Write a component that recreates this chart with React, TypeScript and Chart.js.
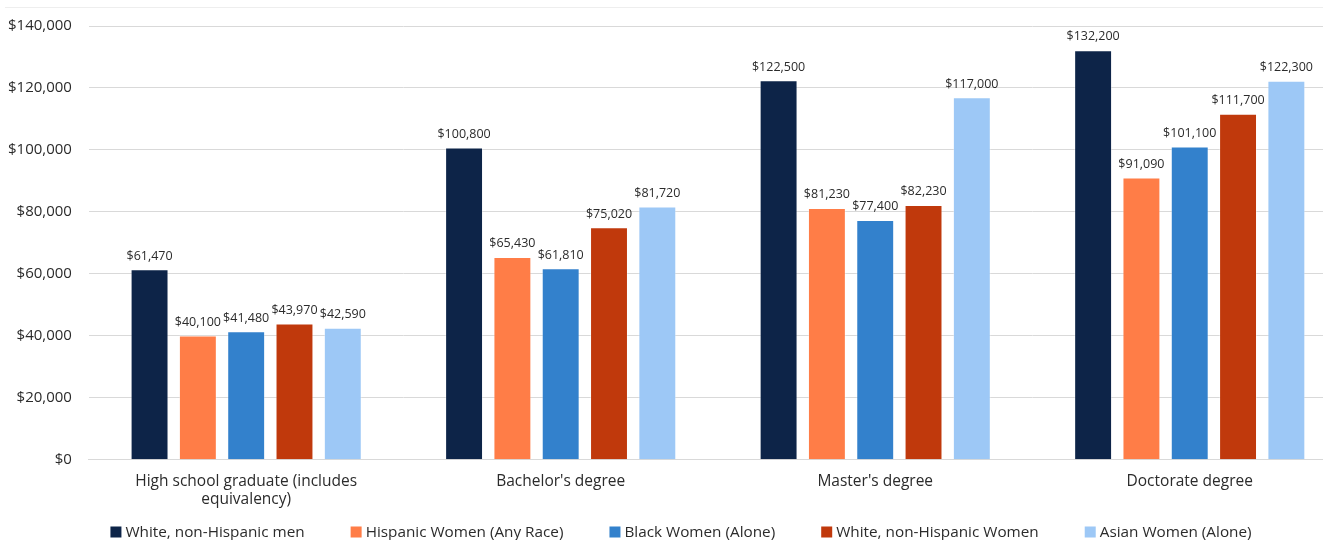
import React, { useEffect, useRef } from "react";
import { Chart, registerables } from "chart.js";

Chart.register(...registerables);

const categories: (string | string[])[] = [
  ["High school graduate (includes", "equivalency)"],
  "Bachelor's degree",
  "Master's degree",
  "Doctorate degree",
];

const seriesNames = [
  "White, non-Hispanic men",
  "Hispanic Women (Any Race)",
  "Black Women (Alone)",
  "White, non-Hispanic Women",
  "Asian Women (Alone)",
];

const whiteMen = [61470, 100800, 122500, 132200];
const hispanicWomen = [40100, 65430, 81230, 91090];
const blackWomen = [41480, 61810, 77400, 101100];
const whiteWomen = [43970, 75020, 82230, 111700];
const asianWomen = [42590, 81720, 117000, 122300];

const seriesValues = [whiteMen, hispanicWomen, blackWomen, whiteWomen, asianWomen];
const seriesColors = ["#0d2448", "#ff7d47", "#3381cc", "#c0390c", "#9dc8f6"];

const yTicks = [0, 20000, 40000, 60000, 80000, 100000, 120000, 140000];

const FONT = '"Open Sans", sans-serif';

const fmt = (v: number) => "$" + v.toLocaleString("en-US");

const labelPlugin = {
  id: "barLabels",
  afterDatasetsDraw(chart: any) {
    const ctx = chart.ctx;
    ctx.save();
    ctx.font = `12.5px ${FONT}`;
    ctx.fillStyle = "#2b2b2b";
    ctx.textAlign = "center";
    ctx.textBaseline = "bottom";
    chart.data.datasets.forEach((ds: any, i: number) => {
      const meta = chart.getDatasetMeta(i);
      meta.data.forEach((bar: any, j: number) => {
        ctx.fillText(fmt(ds.data[j]), bar.x, bar.y - 7);
      });
    });
    ctx.restore();
  },
};

const legendPlugin = {
  id: "customLegend",
  afterDraw(chart: any) {
    const ctx = chart.ctx;
    ctx.save();
    ctx.font = `15.3px ${FONT}`;
    ctx.textBaseline = "middle";
    ctx.textAlign = "left";
    const box = 11;
    const gapBoxText = 4;
    const gapItems = 46;
    const widths = seriesNames.map((n) => box + gapBoxText + ctx.measureText(n).width);
    const total = widths.reduce((a, b) => a + b, 0) + gapItems * (seriesNames.length - 1);
    let x = 690 - total / 2;
    const y = 532;
    seriesNames.forEach((n, i) => {
      ctx.fillStyle = seriesColors[i];
      ctx.fillRect(x, y - box / 2, box, box);
      ctx.fillStyle = "#2b2b2b";
      ctx.fillText(n, x + box + gapBoxText, y + 0.5);
      x += widths[i] + gapItems;
    });
    ctx.restore();
  },
};

export default function App() {
  const ref = useRef<HTMLCanvasElement>(null);
  useEffect(() => {
    if (!ref.current) return;
    const chart = new Chart(ref.current, {
      type: "bar",
      data: {
        labels: categories,
        datasets: seriesNames.map((name, i) => ({
          label: name,
          data: seriesValues[i],
          backgroundColor: seriesColors[i],
          borderColor: "rgba(255,255,255,0.35)",
          borderWidth: 1,
          barPercentage: 0.785,
          categoryPercentage: 0.768,
        })),
      },
      options: {
        animation: false,
        responsive: false,
        maintainAspectRatio: false,
        layout: { padding: { top: 10, right: 3, left: 0, bottom: 27 } },
        plugins: {
          tooltip: { enabled: false },
          legend: { display: false },
        },
        scales: {
          x: {
            grid: { display: false },
            border: { display: true, color: "#d9d9d9" },
            ticks: {
              color: "#2b2b2b",
              font: { family: FONT, size: 15.5, lineHeight: 1.2 },
              maxRotation: 0,
              padding: 4,
            },
          },
          y: {
            min: 0,
            max: 140000,
            afterBuildTicks: (axis: any) => {
              axis.ticks = yTicks.map((v) => ({ value: v }));
            },
            grid: { color: "#d9d9d9", drawTicks: false },
            border: { display: false },
            ticks: {
              color: "#2b2b2b",
              font: { family: FONT, size: 15 },
              padding: 17,
              callback: (v: any) => fmt(Number(v)),
            },
          },
        },
      },
      plugins: [labelPlugin, legendPlugin],
    });
    return () => chart.destroy();
  }, []);

  return (
    <div
      style={{
        position: "fixed",
        left: 0,
        top: 0,
        width: 1323,
        height: 540,
        overflow: "hidden",
        background: "#ffffff",
      }}
    >
      <div
        style={{
          position: "absolute",
          left: 5,
          right: 0,
          top: 7,
          borderTop: "1px solid #eeeeee",
        }}
      />
      <canvas
        ref={ref}
        width={1359}
        height={540}
        style={{ display: "block", position: "absolute", left: -9, top: 0 }}
      />
    </div>
  );
}
